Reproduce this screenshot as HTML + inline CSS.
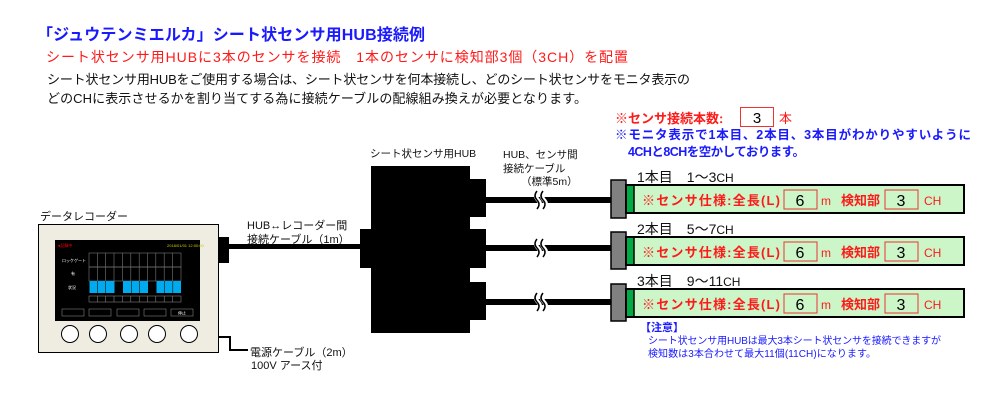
<!DOCTYPE html>
<html><head><meta charset="utf-8"><style>
body{margin:0;width:1000px;height:400px;background:#fff;overflow:hidden}
svg{display:block}
text{font-family:"Liberation Sans","Noto Sans CJK JP",sans-serif}
</style></head><body>
<svg width="1000" height="400" viewBox="0 0 1000 400">
<text x="37" y="40" font-size="16" font-weight="bold" fill="#1a1aff" textLength="388">「ジュウテンミエルカ」シート状センサ用HUB接続例</text>
<text x="46" y="62" font-size="14" fill="#ff1a1a" textLength="582">シート状センサ用HUBに3本のセンサを接続　1本のセンサに検知部3個（3CH）を配置</text>
<text x="47" y="84" font-size="13" fill="#111" textLength="643">シート状センサ用HUBをご使用する場合は、シート状センサを何本接続し、どのシート状センサをモニタ表示の</text>
<text x="47" y="103" font-size="13" fill="#111" textLength="540">どのCHに表示させるかを割り当てする為に接続ケーブルの配線組み換えが必要となります。</text>

<text x="615" y="123" font-size="13" font-weight="bold" fill="#ff1a1a">※センサ接続本数:</text>
<rect x="740.5" y="107.5" width="33" height="19" fill="#fff" stroke="#e33" stroke-width="1"/>
<text x="757" y="123" font-size="15" text-anchor="middle" fill="#000">3</text>
<text x="779" y="123" font-size="13" fill="#ff1a1a">本</text>
<text x="615" y="139" font-size="12.5" font-weight="bold" fill="#1a1aff" textLength="356">※モニタ表示で1本目、2本目、3本目がわかりやすいように</text>
<text x="628" y="156" font-size="12.5" font-weight="bold" fill="#1a1aff" textLength="177">4CHと8CHを空かしております。</text>

<!-- recorder -->
<text x="40" y="220" font-size="11" fill="#111">データレコーダー</text>
<rect x="38.5" y="224.5" width="180" height="128" fill="#efece2" stroke="#000"/>
<rect x="55" y="240" width="145" height="81" fill="#000"/>
<text x="58" y="247" font-size="4" fill="#f00">●記録中</text>
<text x="167" y="247" font-size="4" fill="#cc0">2018/01/01 12:00:00</text>
<text x="62" y="262" font-size="4" fill="#fff">ロッケゲート</text>
<text x="71" y="275" font-size="4" fill="#fff">有</text>
<text x="68" y="289" font-size="4" fill="#fff">状況</text>
<g stroke="#777" stroke-width="0.6" fill="none">
<rect x="89" y="253" width="92" height="14"/><rect x="89" y="267" width="92" height="14"/>
<path d="M97.4 253v28M105.7 253v28M114 253v28M122.4 253v28M130.8 253v28M139.2 253v28M147.5 253v28M155.8 253v28M164.2 253v28M172.6 253v28"/>
</g>
<g fill="#00aaee"><rect x="89.5" y="281" width="25" height="12"/><rect x="123" y="281" width="25" height="12"/><rect x="156.5" y="281" width="24.5" height="12"/></g>
<g stroke="#111" stroke-width="0.6"><path d="M97.4 281v12M105.7 281v12M131.3 281v12M139.7 281v12M164.6 281v12M172.8 281v12"/></g>
<g stroke="#999" stroke-width="0.5" fill="none"><rect x="89" y="296" width="92" height="6"/>
<path d="M97.4 296v6M105.7 296v6M114 296v6M122.4 296v6M130.8 296v6M139.2 296v6M147.5 296v6M155.8 296v6M164.2 296v6M172.6 296v6"/>
<rect x="62" y="309" width="22" height="7"/><rect x="89" y="309" width="22" height="7"/><rect x="117" y="309" width="22" height="7"/><rect x="144" y="309" width="22" height="7"/><rect x="171" y="309" width="22" height="7"/></g>
<text x="182" y="314.5" font-size="4" fill="#fff" text-anchor="middle">停止</text>
<g fill="#fff" stroke="#000"><circle cx="70" cy="334" r="8.5"/><circle cx="98" cy="334" r="8.5"/><circle cx="129" cy="334" r="8.5"/><circle cx="157" cy="334" r="8.5"/><circle cx="189" cy="334" r="8.5"/></g>
<rect x="219" y="237" width="10" height="26" fill="#000"/>
<rect x="229" y="244" width="131" height="5" fill="#000"/>
<text x="247" y="229" font-size="11" fill="#111">HUB↔レコーダー間</text>
<text x="247" y="243" font-size="11" fill="#111">接続ケーブル（1m）</text>
<path d="M219 337H230V350H248" fill="none" stroke="#000" stroke-width="2"/>
<text x="250" y="356" font-size="11" fill="#111">電源ケーブル（2m）</text>
<text x="251" y="369" font-size="11" fill="#111">100V アース付</text>

<!-- hub -->
<text x="370" y="157" font-size="10.5" fill="#111">シート状センサ用HUB</text>
<rect x="371" y="166" width="99" height="167" fill="#000"/>
<rect x="360" y="229" width="12" height="39" fill="#000"/>
<rect x="469" y="179" width="17" height="38" fill="#000"/>
<rect x="469" y="229" width="17" height="39" fill="#000"/>
<rect x="469" y="282" width="17" height="38" fill="#000"/>
<text x="503" y="158" font-size="10.5" fill="#111">HUB、センサ間</text>
<text x="503" y="172" font-size="10.5" fill="#111">接続ケーブル</text>
<text x="521" y="185" font-size="10.5" fill="#111">（標準5m）</text>
<g fill="#000">
<rect x="486" y="197" width="125" height="6"/><rect x="486" y="245" width="125" height="6"/><rect x="486" y="299" width="125" height="6"/>
</g>
<g fill="none" stroke="#fff" stroke-width="4"><path d="M538 191q-4 5 0 9t0 9M544 191q-4 5 0 9t0 9"/><path d="M538 239q-4 5 0 9t0 9M544 239q-4 5 0 9t0 9"/><path d="M538 293q-4 5 0 9t0 9M544 293q-4 5 0 9t0 9"/></g>
<g fill="none" stroke="#000" stroke-width="1.5"><path d="M537 191q-4 5 0 9t0 9M543 191q-4 5 0 9t0 9"/><path d="M537 239q-4 5 0 9t0 9M543 239q-4 5 0 9t0 9"/><path d="M537 293q-4 5 0 9t0 9M543 293q-4 5 0 9t0 9"/></g>

<!-- sensors -->
<g>
<rect x="611" y="180" width="15" height="38" fill="#808080" stroke="#000" stroke-width="1.5"/>
<rect x="626" y="185" width="338" height="28" fill="#ccf5c8" stroke="#000" stroke-width="2"/>
<rect x="627" y="186" width="7" height="26" fill="#00aa44"/>
<path d="M634 186v26" stroke="#000" stroke-width="1.5"/>
</g>
<g transform="translate(0,52)"><rect x="611" y="180" width="15" height="37" fill="#808080" stroke="#000" stroke-width="1.5"/><rect x="626" y="185" width="338" height="28" fill="#ccf5c8" stroke="#000" stroke-width="2"/><rect x="627" y="186" width="7" height="26" fill="#00aa44"/><path d="M634 186v26" stroke="#000" stroke-width="1.5"/></g>
<g transform="translate(0,104)"><rect x="611" y="180" width="15" height="37" fill="#808080" stroke="#000" stroke-width="1.5"/><rect x="626" y="185" width="338" height="28" fill="#ccf5c8" stroke="#000" stroke-width="2"/><rect x="627" y="186" width="7" height="26" fill="#00aa44"/><path d="M634 186v26" stroke="#000" stroke-width="1.5"/></g>

<text x="637" y="182" font-size="14" fill="#111">1本目　1～3<tspan font-size="12">CH</tspan></text>
<text x="637" y="234" font-size="14" fill="#111">2本目　5～7<tspan font-size="12">CH</tspan></text>
<text x="637" y="286" font-size="14" fill="#111">3本目　9～11<tspan font-size="12">CH</tspan></text>

<g>
<text x="642" y="205" font-size="13" font-weight="bold" fill="#ff1a1a" textLength="138">※センサ仕様:全長(L)</text>
<rect x="784" y="190" width="33" height="19" fill="#ccf5c8" stroke="#e33"/>
<text x="800" y="206" font-size="16" text-anchor="middle" fill="#000">6</text>
<text x="821" y="205" font-size="12" fill="#ff1a1a">m</text>
<text x="841" y="205" font-size="13" font-weight="bold" fill="#ff1a1a">検知部</text>
<rect x="885" y="190" width="33" height="19" fill="#ccf5c8" stroke="#e33"/>
<text x="901" y="206" font-size="16" text-anchor="middle" fill="#000">3</text>
<text x="924" y="205" font-size="12" fill="#ff1a1a">CH</text>
</g>
<g transform="translate(0,52)">
<text x="642" y="205" font-size="13" font-weight="bold" fill="#ff1a1a" textLength="138">※センサ仕様:全長(L)</text>
<rect x="784" y="190" width="33" height="19" fill="#ccf5c8" stroke="#e33"/>
<text x="800" y="206" font-size="16" text-anchor="middle" fill="#000">6</text>
<text x="821" y="205" font-size="12" fill="#ff1a1a">m</text>
<text x="841" y="205" font-size="13" font-weight="bold" fill="#ff1a1a">検知部</text>
<rect x="885" y="190" width="33" height="19" fill="#ccf5c8" stroke="#e33"/>
<text x="901" y="206" font-size="16" text-anchor="middle" fill="#000">3</text>
<text x="924" y="205" font-size="12" fill="#ff1a1a">CH</text>
</g>
<g transform="translate(0,104)">
<text x="642" y="205" font-size="13" font-weight="bold" fill="#ff1a1a" textLength="138">※センサ仕様:全長(L)</text>
<rect x="784" y="190" width="33" height="19" fill="#ccf5c8" stroke="#e33"/>
<text x="800" y="206" font-size="16" text-anchor="middle" fill="#000">6</text>
<text x="821" y="205" font-size="12" fill="#ff1a1a">m</text>
<text x="841" y="205" font-size="13" font-weight="bold" fill="#ff1a1a">検知部</text>
<rect x="885" y="190" width="33" height="19" fill="#ccf5c8" stroke="#e33"/>
<text x="901" y="206" font-size="16" text-anchor="middle" fill="#000">3</text>
<text x="924" y="205" font-size="12" fill="#ff1a1a">CH</text>
</g>

<text x="640" y="331" font-size="11" font-weight="bold" fill="#1a1aff">【注意】</text>
<text x="648" y="344" font-size="10" fill="#1a1aff" textLength="293">シート状センサ用HUBは最大3本シート状センサを接続できますが</text>
<text x="648" y="357" font-size="10" fill="#1a1aff" textLength="228">検知数は3本合わせて最大11個(11CH)になります。</text>
</svg>
</body></html>
